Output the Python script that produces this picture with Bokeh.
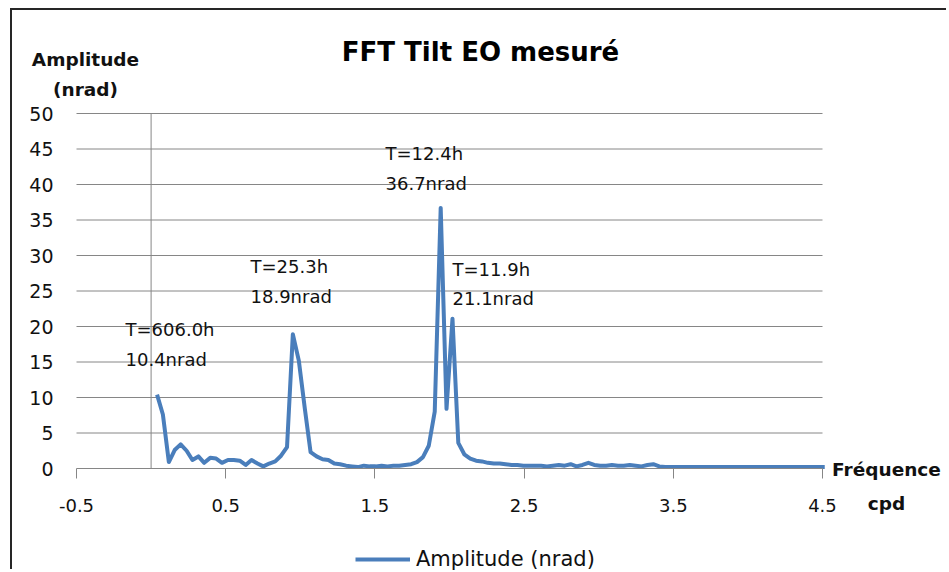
from bokeh.plotting import figure
from bokeh.models import (Label, FixedTicker, LinearAxis, Legend, LegendItem, Range1d)
from bokeh.embed import file_html
from bokeh.resources import INLINE

# ---------------- data ----------------
freq_cpd = [0.040, 0.079, 0.119, 0.158, 0.198, 0.238, 0.277, 0.317, 0.356, 0.396,
            0.436, 0.475, 0.515, 0.554, 0.594, 0.634, 0.673, 0.713, 0.752, 0.792,
            0.832, 0.871, 0.911, 0.950, 0.990, 1.030, 1.069, 1.109, 1.149, 1.188,
            1.228, 1.267, 1.307, 1.347, 1.386, 1.426, 1.465, 1.505, 1.545, 1.584,
            1.624, 1.663, 1.703, 1.743, 1.782, 1.822, 1.861, 1.901, 1.941, 1.980,
            2.020, 2.059, 2.099, 2.139, 2.178, 2.218, 2.257, 2.297, 2.337, 2.376,
            2.416, 2.455, 2.495, 2.535, 2.574, 2.614, 2.653, 2.693, 2.733, 2.772,
            2.812, 2.851, 2.891, 2.931, 2.970, 3.010, 3.050, 3.089, 3.129, 3.168,
            3.208, 3.248, 3.287, 3.327, 3.366, 3.406, 3.446, 3.485, 3.525, 3.564,
            3.604, 3.644, 3.683, 3.723, 3.762, 3.802, 3.842, 3.881, 3.921, 3.960,
            4.000, 4.040, 4.079, 4.119, 4.158, 4.198, 4.238, 4.277, 4.317, 4.356,
            4.396, 4.436, 4.475, 4.515]
amp_nrad = [10.4, 7.6, 0.9, 2.6, 3.4, 2.5, 1.2, 1.7, 0.8, 1.5,
            1.4, 0.8, 1.2, 1.2, 1.1, 0.5, 1.2, 0.7, 0.3, 0.7,
            1.0, 1.8, 3.0, 18.9, 15.2, 8.5, 2.3, 1.7, 1.3, 1.2,
            0.7, 0.6, 0.4, 0.3, 0.2, 0.4, 0.3, 0.3, 0.4, 0.3,
            0.4, 0.4, 0.5, 0.6, 0.9, 1.6, 3.2, 8.0, 36.7, 8.4,
            21.1, 3.6, 2.0, 1.4, 1.1, 1.0, 0.8, 0.7, 0.7, 0.6,
            0.5, 0.5, 0.4, 0.4, 0.4, 0.4, 0.3, 0.4, 0.5, 0.4,
            0.6, 0.3, 0.5, 0.8, 0.5, 0.4, 0.4, 0.5, 0.4, 0.4,
            0.5, 0.4, 0.3, 0.5, 0.6, 0.3, 0.2, 0.2, 0.2, 0.2,
            0.2, 0.2, 0.2, 0.2, 0.2, 0.2, 0.2, 0.2, 0.2, 0.2,
            0.2, 0.2, 0.2, 0.2, 0.2, 0.2, 0.2, 0.2, 0.2, 0.2,
            0.2, 0.2, 0.2, 0.2]

x_ticks = [-0.5, 0.5, 1.5, 2.5, 3.5, 4.5]
x_tick_labels = ["-0.5", "0.5", "1.5", "2.5", "3.5", "4.5"]
y_ticks = [0, 5, 10, 15, 20, 25, 30, 35, 40, 45, 50]

peak_periods = ["T=606.0h", "T=25.3h", "T=12.4h", "T=11.9h"]
peak_amps = ["10.4nrad", "18.9nrad", "36.7nrad", "21.1nrad"]

title_text = "FFT Tilt EO mesuré"
series_name = "Amplitude (nrad)"

# ---------------- layout (page pixels) ----------------
X0_PX, X1_PX = 76.0, 822.0     # page x of -0.5 and 4.5
Y0_PX, Y1_PX = 468.0, 113.0    # page y of 0 and 50
CANVAS_X, CANVAS_Y = 12, 10    # page position of the canvas (css margin + border)
W, H = 936, 561


def dx(px):
    return x_ticks[0] + (px - X0_PX) * (x_ticks[-1] - x_ticks[0]) / (X1_PX - X0_PX)


def dy(py):
    return y_ticks[0] + (Y0_PX - py) * (y_ticks[-1] - y_ticks[0]) / (Y0_PX - Y1_PX)


FONT = "DejaVu Sans"
TXT = "#111111"
GRID = "#868686"
BLUE = "#4a7ebb"

p = figure(width=W, height=H, output_backend="svg", toolbar_location=None,
           x_range=Range1d(dx(CANVAS_X), dx(CANVAS_X + W)),
           y_range=Range1d(dy(CANVAS_Y + H), dy(CANVAS_Y)),
           x_axis_type=None, y_axis_type=None,
           min_border=0, min_border_left=0, min_border_right=0,
           min_border_top=0, min_border_bottom=0)
p.outline_line_color = None
p.background_fill_color = "white"
p.border_fill_color = "white"
p.xgrid.visible = False
p.ygrid.visible = False
p.styles = {"margin-left": "10px", "margin-top": "8px",
            "border-left": "2px solid #262626", "border-top": "2px solid #262626"}

# horizontal gridlines between the first and last x tick
grid_y = y_ticks[1:]
p.segment(x0=[x_ticks[0]] * len(grid_y), y0=grid_y,
          x1=[x_ticks[-1]] * len(grid_y), y1=grid_y,
          line_color=GRID, line_width=1)
# vertical axis line at x = 0
p.segment(x0=[0], y0=[y_ticks[0]], x1=[0], y1=[y_ticks[-1]],
          line_color=GRID, line_width=1)

# x axis at y = 0
xaxis = LinearAxis(ticker=FixedTicker(ticks=x_ticks), fixed_location=0,
                   bounds=(x_ticks[0], x_ticks[-1]),
                   major_label_overrides={t: l for t, l in zip(x_ticks, x_tick_labels)})
xaxis.axis_line_color = GRID
xaxis.major_tick_line_color = GRID
xaxis.major_tick_out = 10
xaxis.major_tick_in = 0
xaxis.minor_tick_line_color = None
xaxis.major_label_standoff = 20
xaxis.major_label_text_font = FONT
xaxis.major_label_text_font_size = "18px"
xaxis.major_label_text_color = TXT
p.add_layout(xaxis, "below")

# y axis labels at the left edge of the plot area
yaxis = LinearAxis(ticker=FixedTicker(ticks=y_ticks), fixed_location=x_ticks[0],
                   bounds=(y_ticks[0], y_ticks[-1]))
yaxis.axis_line_color = None
yaxis.major_tick_line_color = None
yaxis.major_tick_out = 0
yaxis.major_tick_in = 0
yaxis.minor_tick_line_color = None
yaxis.major_label_standoff = 23
yaxis.major_label_text_font = FONT
yaxis.major_label_text_font_size = "19px"
yaxis.major_label_text_color = TXT
p.add_layout(yaxis, "left")

# data line
r = p.line(freq_cpd, amp_nrad, line_color=BLUE, line_width=4, line_join="round")

# title and axis titles
p.add_layout(Label(x=dx(480), y=dy(51), text=title_text, text_align="center",
                   text_baseline="middle", text_font=FONT, text_font_style="bold",
                   text_font_size="26px", text_color="#000000"))
p.add_layout(Label(x=dx(85), y=dy(59), text="Amplitude", text_align="center",
                   text_baseline="middle", text_font=FONT, text_font_style="bold",
                   text_font_size="18.5px", text_color=TXT))
p.add_layout(Label(x=dx(85), y=dy(89), text="(nrad)", text_align="center",
                   text_baseline="middle", text_font=FONT, text_font_style="bold",
                   text_font_size="18.5px", text_color=TXT))
p.add_layout(Label(x=dx(886), y=dy(469), text="Fréquence", text_align="center",
                   text_baseline="middle", text_font=FONT, text_font_style="bold",
                   text_font_size="18.5px", text_color=TXT))
p.add_layout(Label(x=dx(886), y=dy(503), text="cpd", text_align="center",
                   text_baseline="middle", text_font=FONT, text_font_style="bold",
                   text_font_size="18.5px", text_color=TXT))

# peak annotations (left x, first line y, second line y) in page pixels
ann_pos = [(125, 329, 359), (250, 266, 296), (385, 153, 183), (452, 269, 298)]
for (lx, y1, y2), t1, t2 in zip(ann_pos, peak_periods, peak_amps):
    for yy, tt in ((y1, t1), (y2, t2)):
        p.add_layout(Label(x=dx(lx), y=dy(yy), text=tt, text_align="left",
                           text_baseline="middle", text_font=FONT,
                           text_font_size="18px", text_color=TXT))

# legend (location measured from the bottom-left of the canvas)
legend = Legend(items=[LegendItem(label=series_name, renderers=[r])],
                location=(355 - CANVAS_X, 0))
legend.glyph_width = 55
legend.glyph_height = 20
legend.label_height = 20
legend.label_standoff = 6
legend.padding = 0
legend.margin = 0
legend.spacing = 0
legend.border_line_color = None
legend.background_fill_alpha = 0
legend.label_text_font = FONT
legend.label_text_font_size = "21px"
legend.label_text_color = TXT
p.add_layout(legend)

open("out.html", "w").write(file_html(p, INLINE))
